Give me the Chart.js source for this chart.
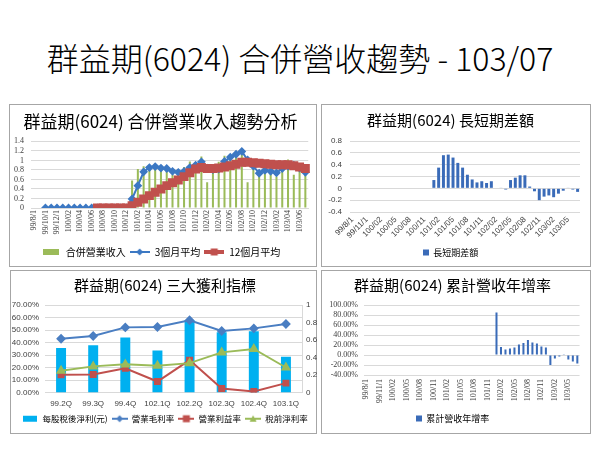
<!DOCTYPE html>
<html>
<head>
<meta charset="utf-8">
<script src="https://cdn.jsdelivr.net/npm/chart.js"></script>
<style>
  body { margin: 0; width: 600px; height: 450px; background: #fff; position: relative; overflow: hidden; font-family: "Noto Sans CJK TC", sans-serif; }
  #title { position: absolute; left: 0; top: 37px; width: 600px; text-align: center; font-size: 32px; font-weight: 300; line-height: 40px; color: #000; }
  .box { position: absolute; border: 1px solid #a6a6a6; box-sizing: border-box; }
  canvas { position: absolute; }
</style>
</head>
<body>
<div id="title">群益期(6024) 合併營收趨勢 - 103/07</div>
<div class="box" style="left:9px;top:104px;width:308px;height:163px"></div>
<div class="box" style="left:321px;top:104px;width:270px;height:163px"></div>
<div class="box" style="left:10px;top:270px;width:307px;height:164px"></div>
<div class="box" style="left:321px;top:270px;width:270px;height:164px"></div>
<canvas id="c1" width="308" height="163" style="left:9px;top:104px"></canvas>
<canvas id="c2" width="270" height="163" style="left:321px;top:104px"></canvas>
<canvas id="c3" width="310" height="163" style="left:10px;top:270px"></canvas>
<canvas id="c4" width="270" height="163" style="left:321px;top:270px"></canvas>
<script>
// monthly categories 99/08 .. 103/07
const months = [
  '99/8/1', '99/9/1', '99/10/1', '99/11/1', '99/12/1',
  '100/01', '100/02', '100/03', '100/04', '100/05', '100/06', '100/07', '100/08', '100/09', '100/10', '100/11', '100/12',
  '101/01', '101/02', '101/03', '101/04', '101/05', '101/06', '101/07', '101/08', '101/09', '101/10', '101/11', '101/12',
  '102/01', '102/02', '102/03', '102/04', '102/05', '102/06', '102/07', '102/08', '102/09', '102/10', '102/11', '102/12',
  '103/01', '103/02', '103/03', '103/04', '103/05', '103/06', '103/07'
];

const revenue = [
  0, 0, 0, 0, 0, 0, 0, 0, 0, 0, 0, 0, 0, 0, 0, 0, 0,
  0.58, 0.82, 0.88, 0.86, 0.87, 0.78, 0.83, 0.70, 0.72, 0.86, 0.98, 0.92,
  1.08, 0.54, 0.84, 0.97, 1.10, 1.02, 1.14, 1.20, 0.54, 0.86, 0.74, 0.78,
  0.77, 0.66, 0.79, 1.02, 0.70, 0.80, 0.75
];
const avg3 = [
  null, null, 0, 0, 0, 0, 0, 0, 0, 0, 0, 0, 0, 0, 0, 0, 0,
  0.19, 0.47, 0.76, 0.85, 0.87, 0.84, 0.83, 0.77, 0.75, 0.77, 0.85, 0.90,
  0.97, 0.84, 0.81, 0.82, 0.98, 1.07, 1.13, 1.19, 1.01, 0.88, 0.73, 0.79,
  0.77, 0.74, 0.83, 0.88, 0.90, 0.84, 0.75
];
const avg12 = [
  null, null, null, null, null, null, null, null, null, null, null, 0, 0, 0, 0, 0, 0,
  0.05, 0.12, 0.19, 0.26, 0.33, 0.40, 0.47, 0.53, 0.59, 0.66, 0.74, 0.82,
  0.85, 0.83, 0.83, 0.84, 0.86, 0.89, 0.92, 0.96, 0.96, 0.95, 0.94, 0.93,
  0.92, 0.91, 0.91, 0.91, 0.89, 0.86, 0.83
];
const diff = [
  null, null, null, null, null, null, null, null, null, null, null, null, null, null, null, null, null,
  0.14, 0.35, 0.56, 0.57, 0.52, 0.43, 0.35, 0.23, 0.15, 0.10, 0.12, 0.09,
  0.12, 0, 0.01, -0.02, 0.14, 0.18, 0.22, 0.22, 0.03, -0.05, -0.20, -0.14,
  -0.12, -0.15, -0.09, -0.04, 0.01, -0.02, -0.06
];
const yoy = [
  null, null, null, null, null, null, null, null, null, null, null, null, null, null, null, null, null,
  null, null, null, null, null, null, null, null, null, null, null, null,
  85, 16, 11, 13, 15, 21, 24, 30, 25, 23, 17, 15,
  -20, -7, -3, 0.5, -9, -13, -17
];

const quarters = ['99.2Q', '99.3Q', '99.4Q', '102.1Q', '102.2Q', '102.3Q', '102.4Q', '103.1Q'];
const eps = [0.51, 0.54, 0.63, 0.48, 0.83, 0.69, 0.70, 0.41];
const grossMargin = [43.0, 45.2, 52.1, 52.4, 57.8, 49.2, 51.3, 54.8];
const opMargin = [14.2, 14.4, 19.3, 8.8, 25.9, 3.2, 0.8, 7.5];
const pretaxMargin = [17.4, 20.9, 22.5, 21.4, 23.5, 32.1, 34.8, 20.0];

// tick values of the value axes
const ticks1 = [0, 0.2, 0.4, 0.6, 0.8, 1, 1.2, 1.4];
const ticks2 = [-0.4, -0.2, 0, 0.2, 0.4, 0.6, 0.8];
const ticks3 = [0, 10, 20, 30, 40, 50, 60, 70];
const ticks3r = [0, 0.2, 0.4, 0.6, 0.8, 1];
const ticks4 = [-40, -20, 0, 20, 40, 60, 80, 100];

const CJK = '"Noto Sans CJK TC", sans-serif';
const GRID = '#d9d9d9';
const TICK = '#404040';
const BLUE = '#3C78C3';
const RED = '#C0504D';
const GREEN = '#9BBB59';
const BARBLUE = '#3A6BB8';

// small legend pictures: a bar swatch or a line with its marker
function icon(kind, color, w, marker, lw) {
  const c = document.createElement('canvas');
  c.width = w; c.height = 10;
  const g = c.getContext('2d');
  g.fillStyle = color; g.strokeStyle = color;
  if (kind === 'bar') { g.fillRect(0, 2, w, 6); return c; }
  g.lineWidth = lw;
  g.beginPath(); g.moveTo(0, 5); g.lineTo(w, 5); g.stroke();
  const cx = w / 2, cy = 5;
  g.beginPath();
  if (marker === 'diamond') { g.moveTo(cx, cy - 3.5); g.lineTo(cx + 3.5, cy); g.lineTo(cx, cy + 3.5); g.lineTo(cx - 3.5, cy); }
  else if (marker === 'square') { g.rect(cx - 3.5, cy - 3.5, 7, 7); }
  else { g.moveTo(cx, cy - 3.5); g.lineTo(cx + 3.5, cy + 3); g.lineTo(cx - 3.5, cy + 3); }
  g.closePath(); g.fill();
  return c;
}

function legendOpts(icons, size, boxW) {
  return {
    position: 'bottom',
    labels: {
      usePointStyle: true,
      pointStyleWidth: boxW,
      padding: 4,
      color: '#000',
      font: { family: CJK, size: size },
      sort: (a, b) => a.datasetIndex - b.datasetIndex,
      generateLabels: ch => Chart.defaults.plugins.legend.labels.generateLabels(ch)
        .map(it => Object.assign(it, { pointStyle: icons[it.datasetIndex] }))
    }
  };
}

function titleOpts(text, size, top, bottom) {
  return { display: true, text: text, color: '#000', font: { family: CJK, size: size, weight: 'normal' }, padding: { top: top, bottom: bottom } };
}

const fixW = w => s => { s.width = w; };
const fixH = h => s => { s.height = h; };
const useTicks = list => s => { s.ticks = list.map(v => ({ value: v })); };

// chart 1: monthly revenue with moving averages
new Chart(document.getElementById('c1'), {
  data: {
    labels: months,
    datasets: [
      { type: 'bar', label: '合併營業收入', data: revenue, backgroundColor: GREEN, barPercentage: 0.35, categoryPercentage: 1, order: 3 },
      { type: 'line', label: '3個月平均', data: avg3, borderColor: BLUE, backgroundColor: BLUE, borderWidth: 2, pointStyle: 'rectRot', pointRadius: 3, order: 2 },
      { type: 'line', label: '12個月平均', data: avg12, borderColor: RED, backgroundColor: RED, borderWidth: 4, pointStyle: 'rect', pointRadius: 3.5, order: 1 }
    ]
  },
  options: {
    responsive: false,
    animation: false,
    layout: { autoPadding: false, padding: { left: 0, right: 5, top: 0, bottom: 0 } },
    plugins: {
      title: titleOpts('群益期(6024) 合併營業收入趨勢分析', 17, 7, 10),
      legend: legendOpts([icon('bar', GREEN, 16), icon('line', BLUE, 20, 'diamond', 2), icon('line', RED, 20, 'square', 4)], 10, 20),
      tooltip: { enabled: false }
    },
    scales: {
      x: {
        grid: { display: false, drawTicks: false },
        border: { color: GRID },
        afterFit: fixH(35),
        ticks: {
          autoSkip: false, minRotation: 90, maxRotation: 90, padding: 2,
          color: TICK, font: { family: 'Liberation Serif', size: 8 },
          callback: (v, i) => i % 2 === 0 ? months[i] : ''
        }
      },
      y: {
        min: 0, max: 1.4,
        grid: { color: GRID, drawTicks: false },
        border: { display: false },
        afterFit: fixW(22),
        afterBuildTicks: useTicks(ticks1),
        ticks: { autoSkip: false, padding: 7, color: TICK, font: { family: 'Liberation Serif', size: 8 }, callback: v => String(v) }
      }
    }
  }
});

// chart 2: short minus long term difference
new Chart(document.getElementById('c2'), {
  type: 'bar',
  data: {
    labels: months,
    datasets: [{ label: '長短期差額', data: diff, backgroundColor: BARBLUE, barPercentage: 0.62, categoryPercentage: 1 }]
  },
  options: {
    responsive: false,
    animation: false,
    layout: { autoPadding: false, padding: { left: 0, right: 11, top: 0, bottom: 0 } },
    plugins: {
      title: titleOpts('群益期(6024) 長短期差額', 15, 7, 12),
      legend: legendOpts([icon('bar', BARBLUE, 6)], 9, 6),
      tooltip: { enabled: false }
    },
    scales: {
      x: {
        grid: { display: false, drawTicks: false },
        border: { display: false },
        afterFit: fixH(32),
        ticks: {
          autoSkip: false, minRotation: 45, maxRotation: 45, padding: 3,
          color: TICK, font: { family: 'Liberation Sans', size: 8 },
          callback: (v, i) => i % 3 === 0 ? months[i] : ''
        }
      },
      y: {
        min: -0.4, max: 0.8,
        grid: { color: GRID, drawTicks: false },
        border: { display: false },
        afterFit: fixW(29),
        afterBuildTicks: useTicks(ticks2),
        ticks: { autoSkip: false, padding: 8, color: TICK, font: { family: 'Liberation Sans', size: 8 }, callback: v => String(v) }
      }
    }
  }
});

// chart 3: profitability indicators
new Chart(document.getElementById('c3'), {
  data: {
    labels: quarters,
    datasets: [
      { type: 'bar', label: '每股稅後淨利(元)', data: eps, yAxisID: 'y1', backgroundColor: '#00B0F0', barPercentage: 0.31, categoryPercentage: 1, order: 4 },
      { type: 'line', label: '營業毛利率', data: grossMargin, yAxisID: 'y', borderColor: '#4A7EC2', backgroundColor: '#4A7EC2', borderWidth: 2, pointStyle: 'rectRot', pointRadius: 3.5, order: 3 },
      { type: 'line', label: '營業利益率', data: opMargin, yAxisID: 'y', borderColor: RED, backgroundColor: RED, borderWidth: 2, pointStyle: 'rect', pointRadius: 3.5, order: 2 },
      { type: 'line', label: '稅前淨利率', data: pretaxMargin, yAxisID: 'y', borderColor: GREEN, backgroundColor: GREEN, borderWidth: 2, pointStyle: 'triangle', pointRadius: 4, order: 1 }
    ]
  },
  options: {
    responsive: false,
    animation: false,
    layout: { autoPadding: false, padding: { left: 0, right: 0, top: 0, bottom: 0 } },
    plugins: {
      title: titleOpts('群益期(6024) 三大獲利指標', 15, 6, 11),
      legend: legendOpts([icon('bar', '#00B0F0', 14), icon('line', '#4A7EC2', 16, 'diamond', 2), icon('line', RED, 16, 'square', 2), icon('line', GREEN, 16, 'tri', 2)], 8.5, 16),
      tooltip: { enabled: false }
    },
    scales: {
      x: {
        grid: { display: false, drawTicks: false },
        border: { color: GRID },
        afterFit: fixH(18),
        ticks: { autoSkip: false, minRotation: 0, maxRotation: 0, padding: 6, color: TICK, font: { family: 'Liberation Sans', size: 8 } }
      },
      y: {
        position: 'left',
        min: 0, max: 70,
        grid: { color: GRID, drawTicks: false },
        border: { display: false },
        afterFit: fixW(35),
        afterBuildTicks: useTicks(ticks3),
        ticks: { autoSkip: false, padding: 6, color: TICK, font: { family: 'Liberation Sans', size: 8 }, callback: v => v.toFixed(2) + '%' }
      },
      y1: {
        position: 'right',
        min: 0, max: 1,
        grid: { display: false, drawTicks: false },
        border: { color: GRID },
        afterFit: fixW(18),
        afterBuildTicks: useTicks(ticks3r),
        ticks: { autoSkip: false, padding: 4, color: TICK, font: { family: 'Liberation Sans', size: 8 }, callback: v => String(v) }
      }
    }
  }
});

// chart 4: cumulative revenue growth year over year
new Chart(document.getElementById('c4'), {
  type: 'bar',
  data: {
    labels: months,
    datasets: [{ label: '累計營收年增率', data: yoy, backgroundColor: BARBLUE, barPercentage: 0.45, categoryPercentage: 1 }]
  },
  options: {
    responsive: false,
    animation: false,
    layout: { autoPadding: false, padding: { left: 0, right: 7, top: 0, bottom: 0 } },
    plugins: {
      title: titleOpts('群益期(6024) 累計營收年增率', 15, 6, 11),
      legend: legendOpts([icon('bar', BARBLUE, 6)], 9, 6),
      tooltip: { enabled: false }
    },
    scales: {
      x: {
        grid: { display: false, drawTicks: false },
        border: { display: false },
        afterFit: fixH(35),
        ticks: {
          autoSkip: false, minRotation: 90, maxRotation: 90, padding: 4,
          color: TICK, font: { family: 'Liberation Serif', size: 8 },
          callback: (v, i) => i % 3 === 0 ? months[i] : ''
        }
      },
      y: {
        min: -40, max: 100,
        grid: { color: GRID, drawTicks: false },
        border: { display: false },
        afterFit: fixW(43),
        afterBuildTicks: useTicks(ticks4),
        ticks: { autoSkip: false, padding: 6, color: TICK, font: { family: 'Liberation Serif', size: 8 }, callback: v => v.toFixed(2) + '%' }
      }
    }
  }
});
</script>
</body>
</html>
